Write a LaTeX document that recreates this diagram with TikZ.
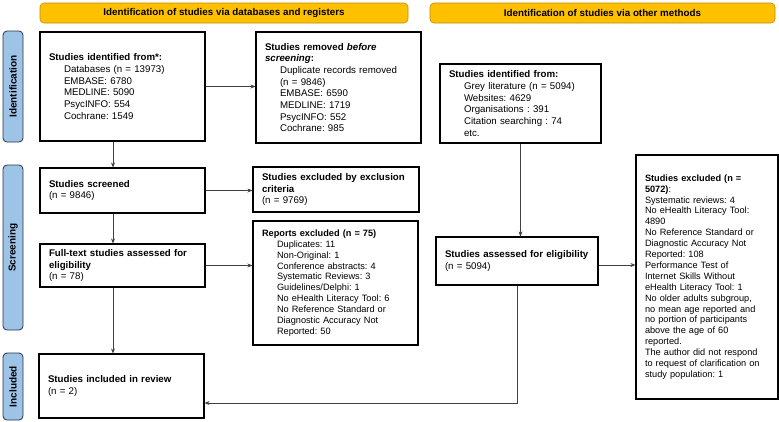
\documentclass[tikz,border=0pt]{standalone}
\usepackage{fontspec}
\setmainfont{Liberation Sans}
\usepackage{tikz}
\usetikzlibrary{arrows.meta}
\definecolor{headgold}{RGB}{255,192,0}
\definecolor{headedge}{RGB}{190,140,0}
\definecolor{phaseblue}{RGB}{157,195,230}
\definecolor{phaseedge}{RGB}{40,50,70}
\newcommand{\pad}{\hspace*{15pt}}
\frenchspacing

\begin{document}
\begin{tikzpicture}[x=1pt,y=-1pt,>={Stealth[length=5pt,width=4pt]},
    box/.style={draw,line width=1.1pt,align=left,inner xsep=9pt,inner ysep=0pt,
        font=\fontsize{9.7}{11.7}\selectfont},
    smallbox/.style={box,font=\fontsize{9.2}{10.9}\selectfont},
    header/.style={draw=headedge,fill=headgold,rounded corners=4pt,line width=0.6pt,
        minimum height=20pt,font=\fontsize{9.8}{11}\selectfont\bfseries},
    phase/.style={draw=phaseedge,fill=phaseblue,rounded corners=4pt,line width=0.8pt,
        minimum height=20pt,rotate=90,font=\fontsize{10}{11}\selectfont\bfseries},
    flow/.style={->,draw=black!75,line width=0.7pt}]
    \useasboundingbox (0,0) rectangle (779,421);
    \node[header,minimum width=368pt] (headdb) at (224,13) {Identification of studies via databases and registers};
    \node[header,minimum width=345pt] (headother) at (602.5,13) {Identification of studies via other methods};
    \node[phase,minimum width=111pt] (phaseid) at (13,86.5) {Identification};
    \node[phase,minimum width=165pt] (phasescr) at (13,247.5) {Screening};
    \node[phase,minimum width=67pt] (phaseinc) at (13,386.5) {Included};
    \node[box,text width=147pt,minimum height=109pt] (ident) at (122.5,86.5) {\textbf{Studies identified from*:}\\
        \pad Databases (n = 13973)\\ \pad EMBASE: 6780\\ \pad MEDLINE: 5090\\ \pad PsycINFO: 554\\ \pad Cochrane: 1549};
    \node[box,text width=147pt,minimum height=111pt] (removed) at (338.5,87.5) {\textbf{Studies removed \textit{before}}\\
        \textbf{\textit{screening}:}\\ \pad Duplicate records removed\\ \pad (n = 9846)\\ \pad EMBASE: 6590\\
        \pad MEDLINE: 1719\\ \pad PsycINFO: 552\\ \pad Cochrane: 985};
    \node[box,text width=147pt,minimum height=45pt] (screened) at (122.5,190.5) {\textbf{Studies screened}\\(n = 9846)};
    \node[box,text width=148pt,minimum height=45pt] (excl) at (336,189.5) {\textbf{Studies excluded by exclusion}\\
        \textbf{criteria}\\(n = 9769)};
    \node[box,text width=147pt,minimum height=43pt] (fulltext) at (122.5,265.5) {\textbf{Full-text studies assessed for}\\
        \textbf{eligibility}\\(n = 78)};
    \node[smallbox,text width=147pt,minimum height=124pt] (reports) at (335.5,283) {\textbf{Reports excluded (n = 75)}\\
        \pad Duplicates: 11\\ \pad Non-Original: 1\\ \pad Conference abstracts: 4\\ \pad Systematic Reviews: 3\\
        \pad Guidelines/Delphi: 1\\ \pad No eHealth Literacy Tool: 6\\ \pad No Reference Standard or\\
        \pad Diagnostic Accuracy Not\\ \pad Reported: 50};
    \node[box,text width=147pt,minimum height=64pt] (incl) at (121.5,386) {\textbf{Studies included in review}\\(n = 2)};
    \node[box,text width=143pt,minimum height=79pt] (other) at (520.5,103.5) {\textbf{Studies identified from:}\\
        \pad Grey literature (n = 5094)\\ \pad Websites: 4629\\ \pad Organisations : 391\\
        \pad Citation searching : 74\\ \pad etc.};
    \node[box,text width=144pt,minimum height=48pt] (assessed) at (517,261) {\textbf{Studies assessed for eligibility}\\(n = 5094)};
    \node[smallbox,text width=124pt,minimum height=244pt] (otherexcl) at (707,277) {\textbf{Studies excluded (n =}\\
        \textbf{5072)}:\\ Systematic reviews: 4\\ No eHealth Literacy Tool:\\ 4890\\ No Reference Standard or\\
        Diagnostic Accuracy Not\\ Reported: 108\\ Performance Test of\\ Internet Skills Without\\
        eHealth Literacy Tool: 1\\ No older adults subgroup,\\ no mean age reported and\\
        no portion of participants\\ above the age of 60\\ reported.\\ The author did not respond\\
        to request of clarification on\\ study population: 1};
    \draw[flow] (ident.east) -- (ident.east -| removed.west);
    \draw[flow] ([xshift=-9.5pt]ident.south) -- ([xshift=-9.5pt]screened.north);
    \draw[flow] (screened.east) -- (screened.east -| excl.west);
    \draw[flow] ([xshift=-9.5pt]screened.south) -- ([xshift=-9.5pt]fulltext.north);
    \draw[flow] (fulltext.east) -- (fulltext.east -| reports.west);
    \draw[flow] ([xshift=-9.5pt]fulltext.south) -- ([xshift=-8.5pt]incl.north);
    \draw[flow] (other.south) -- (other.south |- assessed.north);
    \draw[flow] ([yshift=-4pt]assessed.east) -- ([yshift=-4pt]assessed.east -| otherexcl.west);
    \draw[flow] (assessed.south) |- ([yshift=-17pt]incl.east);
\end{tikzpicture}
\end{document}
